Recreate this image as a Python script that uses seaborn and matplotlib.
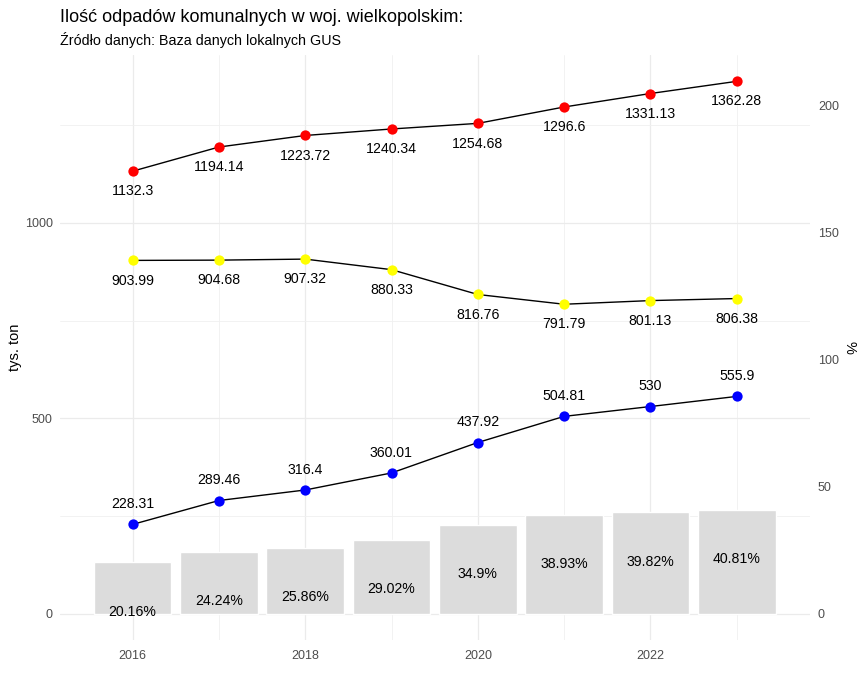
import numpy as np
import pandas as pd
import seaborn as sns
import matplotlib
matplotlib.use('Agg')
import matplotlib.pyplot as plt

# dane
lata = [2016, 2017, 2018, 2019, 2020, 2021, 2022, 2023]
odpady_ogolem = [1132.3, 1194.14, 1223.72, 1240.34, 1254.68, 1296.6, 1331.13, 1362.28]
odpady_zmieszane = [903.99, 904.68, 907.32, 880.33, 816.76, 791.79, 801.13, 806.38]
odpady_selektywne = [228.31, 289.46, 316.4, 360.01, 437.92, 504.81, 530, 555.9]
udzial_proc = [20.16, 24.24, 25.86, 29.02, 34.9, 38.93, 39.82, 40.81]

skala = 6.5  # przelicznik osi % -> tys. ton

df = pd.DataFrame({'rok': lata, 'ogolem': odpady_ogolem,
                   'zmieszane': odpady_zmieszane,
                   'selektywne': odpady_selektywne,
                   'proc': udzial_proc})
df['proc_s'] = df['proc'] * skala

sns.set_theme(style='whitegrid')
plt.rcParams['font.family'] = ['Liberation Sans', 'DejaVu Sans']
plt.rcParams['text.color'] = 'black'

fig = plt.figure(figsize=(8.65, 6.84), dpi=100)
ax = fig.add_axes([0.069, 0.064, 0.867, 0.856])

# słupki z udziałem procentowym
sns.barplot(data=df, x='rok', y='proc_s', native_scale=True, color='#DCDCDC',
            saturation=1, width=0.9, ax=ax, zorder=2)
for r, p, ps in zip(df['rok'], df['proc'], df['proc_s']):
    ax.text(r, ps - 126, '{0}%'.format(p), ha='center', va='center',
            fontsize=10.2, color='black', zorder=5)

# linie i punkty
serie = [('ogolem', 'red', -1), ('zmieszane', 'yellow', -1), ('selektywne', 'blue', 1)]
for kol, kolor, kier in serie:
    sns.lineplot(data=df, x='rok', y=kol, color='black', linewidth=1, ax=ax, zorder=3)
    sns.scatterplot(data=df, x='rok', y=kol, color=kolor, s=55, edgecolor=kolor,
                    linewidth=0, ax=ax, zorder=4)
    for r, v in zip(df['rok'], df[kol]):
        ax.annotate('{0:g}'.format(v), (r, v), xytext=(0, 14.5 * kier),
                    textcoords='offset points', ha='center', va='center',
                    fontsize=10.2, color='black', zorder=5)

ax.set_xlim(2015.155, 2023.845)
ax.set_ylim(-68.1, 1430.4)
ax.set_xticks([2016, 2018, 2020, 2022])
ax.set_xticks([2017, 2019, 2021, 2023], minor=True)
ax.set_yticks([0, 500, 1000])
ax.set_yticks([250, 750, 1250], minor=True)
ax.grid(which='major', color='#EBEBEB', linewidth=0.9)
ax.grid(which='minor', color='#F0F0F0', linewidth=0.6)
for s in ax.spines.values():
    s.set_visible(False)
ax.tick_params(axis='both', which='both', length=0, labelsize=9, labelcolor='#4D4D4D')
ax.tick_params(axis='x', pad=7)
ax.tick_params(axis='y', pad=5)
ax.set_xlabel('')
ax.set_ylabel('')

# druga oś
ax2 = ax.secondary_yaxis('right', functions=(lambda v: v / skala, lambda v: v * skala))
ax2.set_yticks([0, 50, 100, 150, 200])
ax2.tick_params(length=0, labelsize=9, labelcolor='#4D4D4D', pad=6)
for s in ax2.spines.values():
    s.set_visible(False)

# tytuły osi
fig.text(15 / 865, 0.5 * (0.064 + 0.92), 'tys. ton', fontsize=10.5,
         rotation=90, ha='center', va='center')
fig.text(850 / 865, 0.5 * (0.064 + 0.92), '%', fontsize=10.5,
         rotation=-90, ha='center', va='center')

fig.text(0.069, 0.975, 'Ilość odpadów komunalnych w woj. wielkopolskim:',
         fontsize=13, ha='left', va='center')
fig.text(0.069, 0.942, 'Źródło danych: Baza danych lokalnych GUS',
         fontsize=10.3, ha='left', va='center')

fig.savefig('out.png', dpi=100, facecolor='white')
